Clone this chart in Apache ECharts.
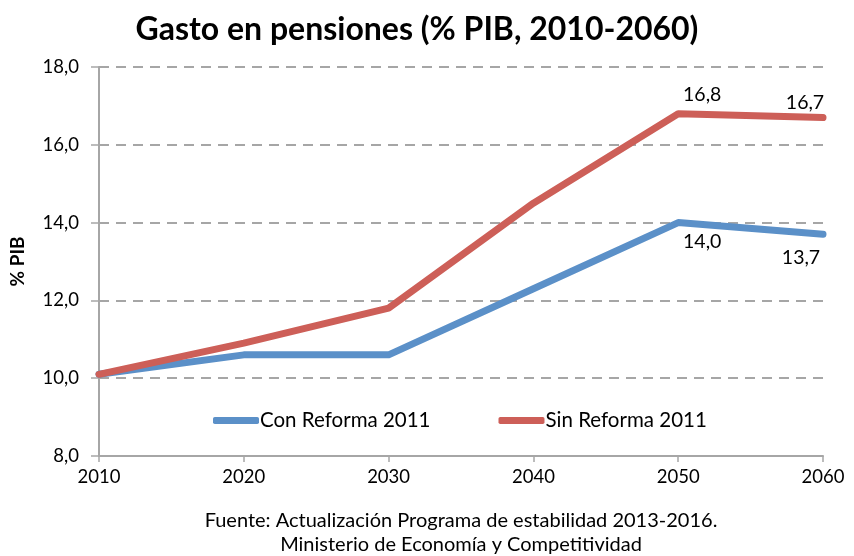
<!DOCTYPE html>
<html>
<head>
<meta charset="utf-8">
<title>Gasto en pensiones</title>
<script src="https://cdn.jsdelivr.net/npm/echarts@6/dist/echarts.min.js"></script>
<style>
  html, body { margin: 0; padding: 0; background: #fff; }
  #main { width: 854px; height: 556px; }
</style>
</head>
<body>
<div id="main"></div>
<script>
// datos
const years = ['2010', '2020', '2030', '2040', '2050', '2060'];
const conReforma = [10.1, 10.6, 10.6, 12.3, 14.0, 13.7];
const sinReforma = [10.1, 10.9, 11.8, 14.5, 16.8, 16.7];
const labelledYears = ['2050', '2060'];

const font = 'Lato, "Open Sans", sans-serif';
const fmt = v => v.toFixed(1).replace('.', ',');

const chart = echarts.init(document.getElementById('main'));

function mkSeries(name, data, color, pos, offsets) {
  return {
    name: name,
    type: 'line',
    data: data,
    symbol: 'none',
    lineStyle: { color: color, width: 7, cap: 'round', join: 'round' },
    itemStyle: { color: color },
    label: { show: false },
    markPoint: {
      symbol: 'circle',
      symbolSize: 0,
      data: labelledYears.map((y, i) => ({
        coord: [y, data[years.indexOf(y)]],
        value: data[years.indexOf(y)],
        label: { offset: offsets[i] }
      })),
      label: {
        show: true,
        position: pos,
        distance: 9,
        color: '#000',
        fontSize: 19.5,
        fontFamily: font,
        formatter: p => fmt(p.value)
      }
    }
  };
}

chart.setOption({
  animation: false,
  title: {
    text: 'Gasto en pensiones (% PIB, 2010-2060)',
    left: 412,
    textAlign: 'center',
    top: 9,
    textStyle: { fontSize: 32, fontWeight: 'bold', color: '#000', fontFamily: font }
  },
  grid: { left: 98, right: 31, top: 67, bottom: 100 },
  legend: {
    left: 208,
    top: 405,
    itemWidth: 46,
    itemHeight: 7,
    itemGap: 68,
    icon: 'roundRect',
    textStyle: { fontSize: 20.5, color: '#000', fontFamily: font, padding: [0, 0, 0, -4] },
    data: ['Con Reforma 2011', 'Sin Reforma 2011']
  },
  xAxis: {
    type: 'category',
    data: years,
    boundaryGap: false,
    axisLine: { lineStyle: { color: '#a6a6a6', width: 2 } },
    axisTick: { show: true, length: 6, lineStyle: { color: '#a6a6a6', width: 1.5 } },
    axisLabel: { color: '#000', fontSize: 18.5, fontFamily: font, margin: 12 },
    splitLine: { show: false }
  },
  yAxis: {
    type: 'value',
    min: 8,
    max: 18,
    interval: 2,
    name: '% PIB',
    nameLocation: 'middle',
    nameGap: 72,
    nameRotate: 90,
    nameTextStyle: { fontSize: 19, fontWeight: 'bold', color: '#000', fontFamily: font },
    axisLine: { show: true, lineStyle: { color: '#a6a6a6', width: 2 } },
    axisTick: { show: true, length: 8, lineStyle: { color: '#a6a6a6', width: 1.5 } },
    axisLabel: { color: '#000', fontSize: 18.5, fontFamily: font, margin: 20, formatter: fmt },
    splitLine: { show: true, lineStyle: { color: '#a6a6a6', width: 2, type: [10, 7] } }
  },
  series: [
    mkSeries('Con Reforma 2011', conReforma, '#5b90c8', 'bottom', [[24, 0], [-22, 4]]),
    mkSeries('Sin Reforma 2011', sinReforma, '#cd5f58', 'top', [[24, 0], [-18, 4]])
  ],
  graphic: [
    {
      type: 'text',
      x: 461,
      y: 509,
      style: {
        text: 'Fuente: Actualización Programa de estabilidad 2013-2016.\nMinisterio de Economía y Competitividad',
        fontSize: 20,
        lineHeight: 24,
        fontFamily: font,
        fill: '#000',
        align: 'center'
      }
    }
  ]
});
</script>
</body>
</html>
